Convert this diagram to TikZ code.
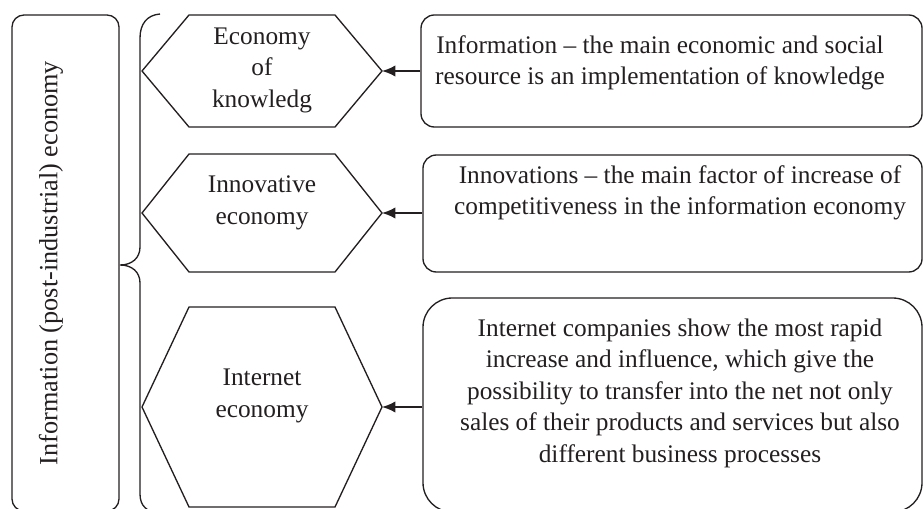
\documentclass[tikz,border=0pt]{standalone}
\usepackage{fontspec}
\setmainfont{Liberation Serif}
\usetikzlibrary{arrows.meta, positioning, calc}
\definecolor{inkline}{RGB}{35,31,32}

\tikzset{
  outline/.style={draw=inkline, line width=1pt},
  infobox/.style={outline, rectangle, rounded corners=10pt, inner sep=0pt},
  txt/.style={font=\fontsize{19}{23.6}\selectfont, text=inkline, align=center, inner sep=0pt},
  arr/.style={draw=inkline, line width=1.3pt, -{Latex[length=10pt,width=8.5pt]}}
}

\begin{document}
\begin{tikzpicture}[x=0.75pt, y=-0.75pt]
\useasboundingbox (0,0) rectangle (923,509);
\clip (0,0) rectangle (923,509);

% Left box with the vertical title
\node[infobox, rounded corners=9pt, minimum width=80.25pt, minimum height=372pt] (main) at (65.5,263) {};
\node[txt, font=\fontsize{19.7}{23.6}\selectfont, rotate=90] (maintxt) at (51,263) {Information (post-industrial) economy};

% Brace
\draw[outline] (160,14) .. controls (147,15) and (140,24) .. (140,38)
  -- (140,247) .. controls (140,258) and (132,265) .. (120,265)
  .. controls (132,265) and (140,272) .. (140,283)
  -- (140,494) .. controls (140,506) and (147,512) .. (160,514);

% Hexagons
\foreach \n/\t/\b in {1/15/127, 2/154/272, 3/307/507} {
  \draw[outline, line join=miter] (142,{(\t+\b)/2}) -- (189,\t) -- (335,\t)
    -- (382,{(\t+\b)/2}) -- (335,\b) -- (189,\b) -- cycle;
  \coordinate (tip\n) at (382,{(\t+\b)/2});
}
\node[txt] (h1) at (262,70) {Economy\\of\\knowledg};
\node[txt] (h2) at (262,203) {Innovative\\economy};
\node[txt] (h3) at (262,396) {Internet\\economy};

% Right boxes
\node[infobox, minimum width=375.75pt, minimum height=84pt] (b1) at (671.5,71) {};
\node[infobox, minimum width=374.25pt, minimum height=87.75pt] (b2) at (672.5,213.5) {};
\node[infobox, rounded corners=22pt, minimum width=374.25pt, minimum height=160.5pt] (b3) at (672.5,405) {};

\node[txt] (t1) at (660,63) {Information -- the main economic and social\\resource is an implementation of knowledge};
\node[txt] (t2) at (680,193) {Innovations -- the main factor of increase of\\competitiveness in the information economy};
\node[txt] (t3) at (680,393) {Internet companies show the most rapid\\increase and influence, which give the\\possibility to transfer into the net not only\\sales of their products and services but also\\different business processes};

% Arrows
\draw[arr] (b1.west |- tip1) -- (tip1);
\draw[arr] (b2.west |- tip2) -- (tip2);
\draw[arr] (b3.west |- tip3) -- (tip3);

\end{tikzpicture}
\end{document}
